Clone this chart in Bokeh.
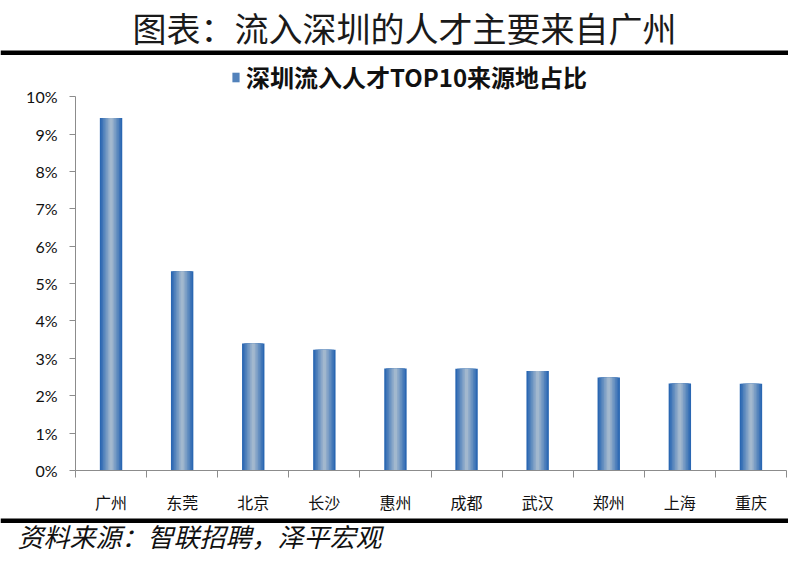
from bokeh.plotting import figure
from bokeh.layouts import column
from bokeh.models import (FixedTicker, NumeralTickFormatter, Range1d, Label,
                          BoxAnnotation, Legend, LegendItem, LinearAxis, ColumnDataSource)
from bokeh.embed import file_html
from bokeh.resources import INLINE

# ---------------- data ----------------
categories = ["广州", "东莞", "北京", "长沙", "惠州", "成都", "武汉", "郑州", "上海", "重庆"]
shares = [0.0943, 0.0533, 0.0340, 0.0323, 0.0273, 0.0272, 0.0266, 0.0249, 0.0233, 0.0232]
y_ticks = [0.00, 0.01, 0.02, 0.03, 0.04, 0.05, 0.06, 0.07, 0.08, 0.09, 0.10]
legend_label = "深圳流入人才TOP10来源地占比"
title_text = "图表：流入深圳的人才主要来自广州"
source_text = "资料来源：智联招聘，泽平宏观"

# ---------------- layout ----------------
W = 788
CJK = "Noto Sans CJK SC"
n = len(categories)
x_centers = [i + 0.5 for i in range(n)]
x_bounds = [float(i) for i in range(n + 1)]


def blank(height):
    f = figure(width=W, height=height, output_backend="svg", toolbar_location=None,
               x_range=Range1d(0, W), y_range=Range1d(height, 0),
               x_axis_type=None, y_axis_type=None, min_border=0,
               frame_align=False)
    f.outline_line_color = None
    f.background_fill_color = "white"
    f.border_fill_color = "white"
    return f


# ---- header: title + thick rule ----
TOP_H = 58
top = blank(TOP_H)
top.add_layout(Label(x=404, y=27, text=title_text, text_align="center",
                     text_baseline="middle", text_font=CJK, text_font_size="34px",
                     text_color="#1a1a1a"))
top.add_layout(BoxAnnotation(left=0, right=W, top=50, bottom=54.5,
                             fill_color="black", fill_alpha=1, line_color=None))

# ---- main chart ----
MAIN_H = 458
FRAME_TOP_VAL = 0.1102   # frame extends above 10% to hold the legend
p = figure(width=W, height=MAIN_H, output_backend="svg", toolbar_location=None,
           x_range=Range1d(0, n), y_range=Range1d(0, FRAME_TOP_VAL),
           x_axis_type=None, y_axis_type=None,
           min_border_left=75, min_border_right=2,
           min_border_top=0, min_border_bottom=36, frame_align=False)
p.outline_line_color = None
p.background_fill_color = "white"
p.border_fill_color = "white"

src = ColumnDataSource(dict(x=x_centers, top=shares, cat=categories))

# gradient-like bars: layered vbars, dark edges -> light centre
BAR_W = 0.315
dark = (0x2A, 0x67, 0xB2)
light = (0xA2, 0xB8, 0xCE)
layers = 7
renderers = []
for k in range(layers):
    t = k / (layers - 1)
    c = tuple(int(round(dark[j] + (light[j] - dark[j]) * t)) for j in range(3))
    col = "#%02x%02x%02x" % c
    w = BAR_W * (1 - k / layers)
    r = p.vbar(x="x", top="top", bottom=0, width=w, source=src,
               fill_color=col, line_color=None)
    renderers.append(r)

yaxis = LinearAxis(ticker=FixedTicker(ticks=y_ticks),
                   formatter=NumeralTickFormatter(format="0%"),
                   bounds=(y_ticks[0], y_ticks[-1]))
yaxis.axis_line_color = "#8c8c8c"
yaxis.major_tick_line_color = "#8c8c8c"
yaxis.major_tick_in = 0
yaxis.major_tick_out = 6
yaxis.minor_tick_line_color = None
yaxis.major_label_text_font = "Lato"
yaxis.major_label_text_font_size = "16px"
yaxis.major_label_text_color = "#111111"
yaxis.major_label_standoff = 12
p.add_layout(yaxis, "left")

xaxis = LinearAxis(ticker=FixedTicker(ticks=x_centers, minor_ticks=x_bounds),
                   major_label_overrides={x: c for x, c in zip(x_centers, categories)})
xaxis.axis_line_color = "#8c8c8c"
xaxis.major_tick_line_color = None
xaxis.major_tick_in = 0
xaxis.major_tick_out = 0
xaxis.minor_tick_line_color = "#8c8c8c"
xaxis.minor_tick_in = 0
xaxis.minor_tick_out = 7
xaxis.major_label_text_font = CJK
xaxis.major_label_text_font_size = "16px"
xaxis.major_label_text_color = "#111111"
xaxis.major_label_standoff = 12
p.add_layout(xaxis, "below")

legend = Legend(items=[LegendItem(label=legend_label, renderers=[renderers[2]])],
                orientation="horizontal", location=(156, 376),
                label_text_font=CJK, label_text_font_style="bold",
                label_text_font_size="24px", label_text_color="#111111",
                glyph_width=9, glyph_height=12, label_standoff=6,
                border_line_color=None, background_fill_alpha=0,
                padding=2, margin=0)
p.add_layout(legend)

# ---- footer: thick rule + source ----
BOT_H = 38
bot = blank(BOT_H)
bot.add_layout(BoxAnnotation(left=0, right=W, top=2, bottom=6.5,
                             fill_color="black", fill_alpha=1, line_color=None))
bot.add_layout(Label(x=17, y=19, text=source_text, text_align="left",
                     text_baseline="middle", text_font=CJK, text_font_style="italic",
                     text_font_size="26px", text_color="#111111"))

layout = column(top, p, bot, spacing=0)
open("out.html", "w").write(file_html(layout, INLINE))
